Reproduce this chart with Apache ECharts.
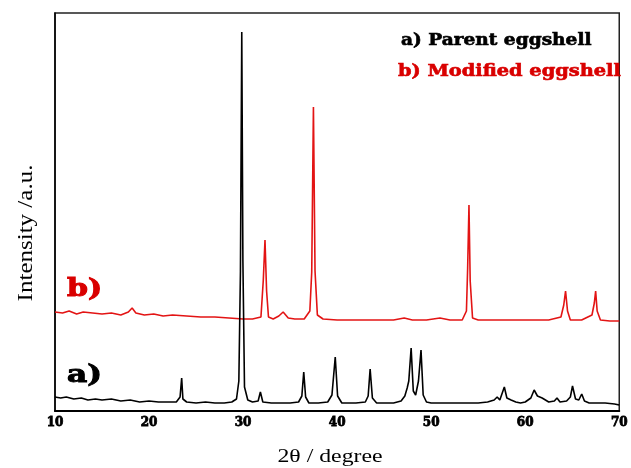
<!DOCTYPE html>
<html>
<head>
<meta charset="utf-8">
<script src="https://cdn.jsdelivr.net/npm/echarts@6/dist/echarts.min.js"></script>
<style>html,body{margin:0;padding:0;background:#fff}#c{width:631px;height:468px}</style>
</head>
<body>
<div id="c"></div>
<script>
// x-axis tick labels
const xTicks = [10, 20, 30, 40, 50, 60, 70];
const seriesNames = ['a) Parent eggshell', 'b) Modified eggshell'];

// a) Parent eggshell (arbitrary intensity units read off the picture)
const aX = [10, 10.6, 11.2, 12, 12.8, 13.5, 14.3, 15, 16, 17, 18, 19, 20, 21, 22, 22.9, 23.3, 23.47, 23.6, 24, 25, 26, 27, 28, 28.8, 29.3, 29.55, 29.72, 29.86, 29.98, 30.15, 30.5, 31, 31.6, 31.84, 32.1, 33, 34, 35, 35.9, 36.25, 36.45, 36.65, 37, 38, 39, 39.45, 39.8, 40.05, 40.5, 41, 42, 43, 43.3, 43.51, 43.75, 44.2, 45, 46, 46.8, 47.2, 47.45, 47.62, 47.87, 48.1, 48.35, 48.65, 48.92, 49.15, 49.5, 50, 51, 52, 53, 54, 55, 56, 56.7, 57.02, 57.3, 57.78, 58.05, 58.5, 59, 59.5, 60, 60.6, 60.95, 61.3, 61.8, 62.5, 63.1, 63.38, 63.7, 64.4, 64.8, 65.03, 65.35, 65.7, 66.01, 66.3, 66.8, 67.5, 68.5, 69.5, 70];
const aY = [14, 13, 14, 12, 13, 11, 12, 11, 12, 10, 11, 9, 10, 9, 9, 9, 14, 33, 12, 9, 8, 9, 8, 8, 9, 12, 30, 140, 379, 150, 24, 11, 9, 10, 19, 9, 8, 8, 8, 9, 15, 39, 14, 8, 8, 9, 16, 54, 15, 8, 8, 8, 9, 15, 42, 13, 8, 8, 8, 10, 15, 23, 30, 63, 20, 16, 30, 61, 16, 9, 8, 8, 8, 8, 8, 8, 9, 11, 14, 11, 24, 13, 11, 9, 8, 9, 13, 21, 15, 13, 9, 10, 13, 9, 10, 14, 25, 12, 11, 17, 10, 8, 8, 8, 7, 6];

// b) Modified eggshell
const bX = [10, 10.8, 11.5, 12.3, 13, 14, 15, 16, 17, 17.8, 18.2, 18.6, 19.5, 20.5, 21.5, 22.5, 24, 25.5, 27, 28.5, 30, 31, 31.9, 32.15, 32.33, 32.5, 32.7, 33.2, 33.8, 34.26, 34.8, 35.5, 36.5, 37.1, 37.3, 37.48, 37.65, 37.9, 38.5, 40, 42, 44, 46, 47.13, 48, 49.5, 50.93, 52, 53.3, 53.75, 53.88, 54.02, 54.15, 54.4, 55, 57, 59, 61, 62.5, 63.8, 64.1, 64.29, 64.5, 64.8, 66, 67.1, 67.35, 67.49, 67.65, 68, 69, 70];
const bY = [99, 98, 100, 97, 99, 98, 97, 98, 96, 99, 103, 98, 96, 97, 95, 96, 95, 94, 94, 93, 92, 92, 94, 131, 171, 120, 94, 92, 95, 99, 93, 92, 92, 100, 139, 304, 140, 96, 92, 91, 91, 91, 91, 93, 91, 91, 93, 91, 91, 100, 143, 206, 130, 93, 91, 91, 91, 91, 91, 94, 106, 120, 100, 91, 91, 96, 108, 120, 100, 91, 90, 90];

const aData = aX.map((x, i) => [x, aY[i]]);
const bData = bX.map((x, i) => [x, bY[i]]);

const chart = echarts.init(document.getElementById('c'), null, {renderer: 'canvas'});
chart.setOption({
  animation: false,
  backgroundColor: '#fff',
  grid: {left: 55, right: 7, top: 13, bottom: 57, show: true, borderColor: '#222', borderWidth: 1.5, backgroundColor: 'transparent'},
  xAxis: {
    type: 'value', min: 10, max: 70, interval: 10,
    axisLine: {show: true, onZero: false, lineStyle: {color: '#000', width: 2}},
    axisTick: {show: false},
    splitLine: {show: false},
    axisLabel: {
      color: '#000', fontFamily: 'DejaVu Serif', fontWeight: 'bold', fontSize: 12, margin: 6,
      textBorderColor: '#000', textBorderWidth: 0.8,
      formatter: v => (xTicks.includes(v) ? String(v) : '')
    }
  },
  yAxis: {
    type: 'value', min: 0, max: 398,
    axisLine: {show: true, lineStyle: {color: '#000', width: 1.5}},
    axisTick: {show: false},
    axisLabel: {show: false},
    splitLine: {show: false}
  },
  series: [
    {name: seriesNames[1], type: 'line', data: bData, showSymbol: false, symbol: 'none',
     lineStyle: {color: '#e31414', width: 1.6}, z: 2},
    {name: seriesNames[0], type: 'line', data: aData, showSymbol: false, symbol: 'none',
     lineStyle: {color: '#000', width: 1.6}, z: 3}
  ],
  graphic: [
    {type: 'text', x: 401, y: 33, scaleX: 1.16, style: {text: seriesNames[0], fill: '#000', stroke: '#000', lineWidth: 0.6, font: 'bold 16px "DejaVu Serif"'}},
    {type: 'text', x: 398, y: 64, scaleX: 1.21, style: {text: seriesNames[1], fill: '#d90000', stroke: '#d90000', lineWidth: 0.6, font: 'bold 16px "DejaVu Serif"'}},
    {type: 'text', x: 67, y: 278, scaleX: 1.25, style: {text: 'b)', fill: '#d90000', stroke: '#d90000', lineWidth: 1, font: 'bold 24px "DejaVu Serif"'}},
    {type: 'text', x: 67, y: 364, scaleX: 1.3, style: {text: 'a)', fill: '#000', stroke: '#000', lineWidth: 1, font: 'bold 24px "DejaVu Serif"'}},
    {type: 'text', x: 330, y: 457, scaleX: 1.25, style: {text: '2θ / degree', fill: '#000', font: '19px "Liberation Serif"', align: 'center', verticalAlign: 'middle'}},
    {type: 'text', x: 27, y: 233, rotation: Math.PI / 2, scaleX: 1.25, style: {text: 'Intensity /a.u.', fill: '#000', font: '20px "Liberation Serif"', align: 'center', verticalAlign: 'middle'}}
  ]
});
</script>
</body>
</html>
